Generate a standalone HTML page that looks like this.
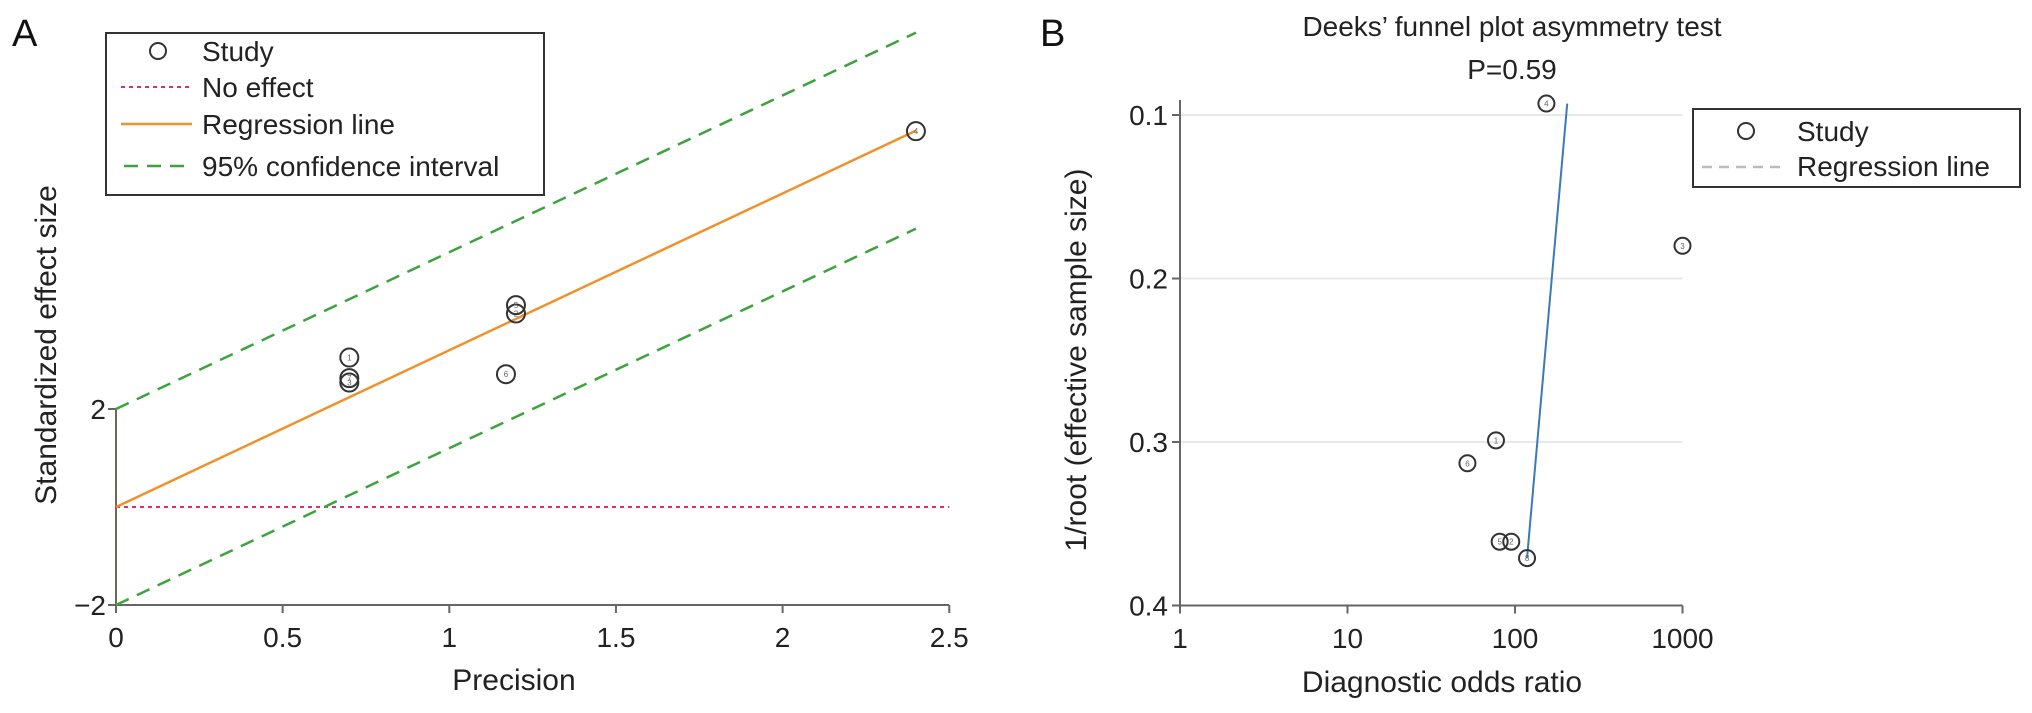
<!DOCTYPE html>
<html><head><meta charset="utf-8">
<style>
html,body{margin:0;padding:0;background:#fff;}
svg{display:block;font-family:"Liberation Sans",Arial,sans-serif;}
</style></head>
<body>
<svg id="fig" width="2032" height="713" viewBox="0 0 2032 713" xmlns="http://www.w3.org/2000/svg">
  <text x="12" y="46" font-size="38" fill="#111">A</text>
  <text x="1040" y="46" font-size="38" fill="#111">B</text>
  <g id="panelA"></g>
  <g id="panelB"></g>
</svg>
<script>
// ---- Panel A data ----
const aPrecision = [0.70, 0.70, 0.70, 1.17, 1.20, 1.20, 2.40];
const aEffect = [3.05, 2.63, 2.54, 2.71, 3.95, 4.12, 7.67];
const aStudyIds = ["1", "7", "3", "6", "2", "5", "4"];
const aRegLine = [0, 3.2];      // intercept, slope
const aCiUpper = [2, 3.2];
const aCiLower = [-2, 3.2];
const aXTicks = [0, 0.5, 1, 1.5, 2, 2.5];
const aXTickLabels = ["0", "0.5", "1", "1.5", "2", "2.5"];
const aYTicks = [2, -2];
const aYTickLabels = ["2", "\u22122"];
const aLineEnd = 2.4;

// ---- Panel B data ----
const bDOR = [154, 1000, 77, 52, 81, 95, 118];
const bInvRoot = [0.093, 0.180, 0.299, 0.313, 0.361, 0.361, 0.371];
const bStudyIds = ["4", "3", "1", "6", "5", "2", "8"];
const bRegDOR = [118, 205];
const bRegY = [0.371, 0.093];
const bXTicks = [1, 10, 100, 1000];
const bXTickLabels = ["1", "10", "100", "1000"];
const bYTicks = [0.1, 0.2, 0.3, 0.4];
const bYTickLabels = ["0.1", "0.2", "0.3", "0.4"];

const NS = "http://www.w3.org/2000/svg";
function mk(parent, tag, attrs, text) {
  const e = document.createElementNS(NS, tag);
  for (const k in attrs) e.setAttribute(k, attrs[k]);
  if (text !== undefined) e.textContent = text;
  parent.appendChild(e);
  return e;
}

// ---- Panel A ----
(function () {
  const g = document.getElementById("panelA");
  const xA = v => 116 + v * 333.3;
  const yA = v => 507 - v * 49;
  // axes
  let e = mk(g, "line", {x1: xA(0), y1: yA(2), x2: xA(0), y2: yA(-2), stroke: "#6a6a55", "stroke-width": 2});
  
  
  e = mk(g, "line", {x1: xA(0), y1: yA(-2), x2: xA(2.5), y2: yA(-2), stroke: "#666", "stroke-width": 2});
  
  
  aXTicks.forEach((t, i) => {
    mk(g, "line", {x1: xA(t), y1: yA(-2), x2: xA(t), y2: yA(-2) + 8, stroke: "#666", "stroke-width": 2});
    const tx = mk(g, "text", {x: xA(t), y: 647, "font-size": 28, "text-anchor": "middle", fill: "#222"}, aXTickLabels[i]);
    
    
  });
  aYTicks.forEach((t, i) => {
    mk(g, "line", {x1: xA(0) - 8, y1: yA(t), x2: xA(0), y2: yA(t), stroke: "#666", "stroke-width": 2});
    const tx = mk(g, "text", {x: xA(0) - 10, y: yA(t) + 10, "font-size": 28, "text-anchor": "end", fill: "#222"}, aYTickLabels[i]);
    
    
  });
  // no effect line
  e = mk(g, "line", {x1: xA(0), y1: yA(0), x2: xA(2.5), y2: yA(0), stroke: "#d6336c", "stroke-width": 2, "stroke-dasharray": "4,4"});
  
  
  // CI lines
  [aCiUpper, aCiLower].forEach((c, i) => {
    const l = mk(g, "line", {x1: xA(0), y1: yA(c[0]), x2: xA(aLineEnd), y2: yA(c[0] + c[1] * aLineEnd), stroke: "#3da33d", "stroke-width": 2.5, "stroke-dasharray": "14,9"});
    
    
  });
  // regression
  e = mk(g, "line", {x1: xA(0), y1: yA(aRegLine[0]), x2: xA(aLineEnd), y2: yA(aRegLine[0] + aRegLine[1] * aLineEnd), stroke: "#f0922b", "stroke-width": 2.5});
  
  
  // points
  aPrecision.forEach((p, i) => {
    const c = mk(g, "circle", {cx: xA(p), cy: yA(aEffect[i]), r: 9, fill: "none", stroke: "#333", "stroke-width": 2});
    
    
    mk(g, "text", {x: xA(p), y: yA(aEffect[i]) + 3, "font-size": 8, "text-anchor": "middle", fill: "#666"}, aStudyIds[i]);
  });
  // axis titles
  e = mk(g, "text", {x: 514, y: 690, "font-size": 30, "text-anchor": "middle", fill: "#222"}, "Precision");
  
  
  e = mk(g, "text", {x: 0, y: 0, "font-size": 30, "text-anchor": "middle", fill: "#222", transform: "translate(56,345) rotate(-90)"}, "Standardized effect size");
  
  
  // legend
  const lg = mk(g, "g", {});
  
  
  mk(lg, "rect", {x: 106, y: 33, width: 438, height: 162, fill: "#fff", stroke: "#333", "stroke-width": 2});
  mk(lg, "circle", {cx: 158, cy: 51, r: 8, fill: "none", stroke: "#333", "stroke-width": 2});
  mk(lg, "line", {x1: 121, y1: 87, x2: 192, y2: 87, stroke: "#d6336c", "stroke-width": 2, "stroke-dasharray": "4,4"});
  mk(lg, "line", {x1: 121, y1: 124, x2: 192, y2: 124, stroke: "#f0922b", "stroke-width": 2.5});
  mk(lg, "line", {x1: 124, y1: 166, x2: 192, y2: 166, stroke: "#3da33d", "stroke-width": 2.5, "stroke-dasharray": "14,9"});
  const labs = ["Study", "No effect", "Regression line", "95% confidence interval"];
  const ly = [61, 97, 134, 176];
  labs.forEach((s, i) => {
    const t = mk(lg, "text", {x: 202, y: ly[i], "font-size": 28, fill: "#222"}, s);
    
    
  });
})();

// ---- Panel B ----
(function () {
  const g = document.getElementById("panelB");
  const xB = v => 1180 + Math.log10(v) * 167.5;
  const yB = v => 115 + (v - 0.1) * 1635;
  // grid
  bYTicks.slice(0, 3).forEach(t => {
    const l = mk(g, "line", {x1: xB(1), y1: yB(t), x2: xB(1000), y2: yB(t), stroke: "#e6e9ec", "stroke-width": 2});
    
    
  });
  let e = mk(g, "line", {x1: xB(1), y1: 100, x2: xB(1), y2: yB(0.4), stroke: "#666", "stroke-width": 2});
  
  
  e = mk(g, "line", {x1: xB(1), y1: yB(0.4), x2: xB(1000), y2: yB(0.4), stroke: "#666", "stroke-width": 2});
  
  
  bXTicks.forEach((t, i) => {
    mk(g, "line", {x1: xB(t), y1: yB(0.4), x2: xB(t), y2: yB(0.4) + 8, stroke: "#666", "stroke-width": 2});
    const tx = mk(g, "text", {x: xB(t), y: 648, "font-size": 28, "text-anchor": "middle", fill: "#222"}, bXTickLabels[i]);
    
    
  });
  bYTicks.forEach((t, i) => {
    mk(g, "line", {x1: xB(1) - 8, y1: yB(t), x2: xB(1), y2: yB(t), stroke: "#666", "stroke-width": 2});
    const tx = mk(g, "text", {x: xB(1) - 12, y: yB(t) + 10, "font-size": 28, "text-anchor": "end", fill: "#222"}, bYTickLabels[i]);
    
    
  });
  // regression
  e = mk(g, "line", {x1: xB(bRegDOR[0]), y1: yB(bRegY[0]), x2: xB(bRegDOR[1]), y2: yB(bRegY[1]), stroke: "#3a7ab8", "stroke-width": 2});
  
  
  bDOR.forEach((d, i) => {
    const c = mk(g, "circle", {cx: xB(d), cy: yB(bInvRoot[i]), r: 8, fill: "none", stroke: "#333", "stroke-width": 2});
    
    
    mk(g, "text", {x: xB(d), y: yB(bInvRoot[i]) + 3, "font-size": 8, "text-anchor": "middle", fill: "#666"}, bStudyIds[i]);
  });
  e = mk(g, "text", {x: 1512, y: 36, "font-size": 28, "text-anchor": "middle", fill: "#222"}, "Deeks\u2019 funnel plot asymmetry test");
  
  
  e = mk(g, "text", {x: 1512, y: 79, "font-size": 28, "text-anchor": "middle", fill: "#222"}, "P=0.59");
  
  
  e = mk(g, "text", {x: 1442, y: 692, "font-size": 30, "text-anchor": "middle", fill: "#222"}, "Diagnostic odds ratio");
  
  
  e = mk(g, "text", {x: 0, y: 0, "font-size": 30, "text-anchor": "middle", fill: "#222", transform: "translate(1086,360) rotate(-90)"}, "1/root (effective sample size)");
  
  
  const lg = mk(g, "g", {});
  
  
  mk(lg, "rect", {x: 1693, y: 109, width: 327, height: 78, fill: "#fff", stroke: "#333", "stroke-width": 2});
  mk(lg, "circle", {cx: 1746, cy: 131, r: 8, fill: "none", stroke: "#333", "stroke-width": 2});
  mk(lg, "line", {x1: 1702, y1: 167, x2: 1786, y2: 167, stroke: "#bbb", "stroke-width": 2.5, "stroke-dasharray": "10,7"});
  let t = mk(lg, "text", {x: 1797, y: 141, "font-size": 28, fill: "#222"}, "Study");
  
  
  t = mk(lg, "text", {x: 1797, y: 176, "font-size": 28, fill: "#222"}, "Regression line");
  
  
})();
</script>
</body></html>
